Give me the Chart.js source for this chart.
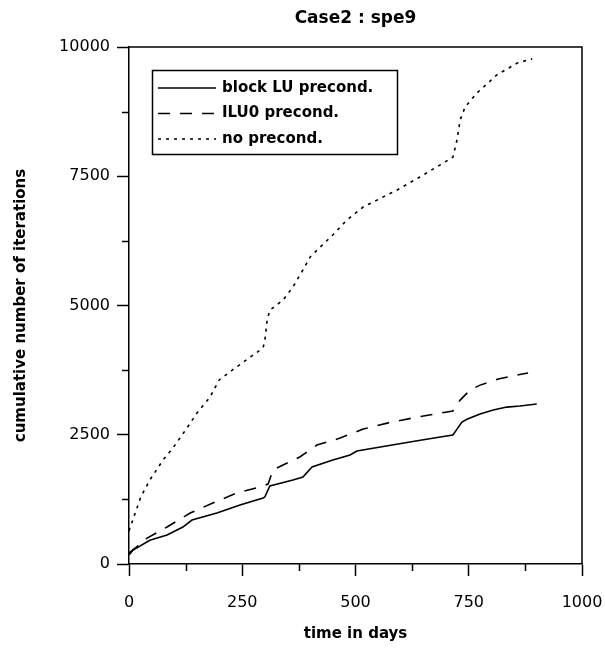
<!DOCTYPE html>
<html>
<head>
<meta charset="utf-8">
<script src="https://cdn.jsdelivr.net/npm/chart.js@4"></script>
<style>
  body { margin: 0; background: #fff; }
  #grafico { display: block; }
</style>
</head>
<body>
<canvas id="grafico" width="605" height="649"></canvas>
<script>
// dados (dias, iterações acumuladas)
const luDias = [0, 9, 46, 84, 119, 139, 194, 245, 296, 300, 311, 362, 384, 404, 450, 488, 503, 620, 687, 715, 735, 746, 775, 804, 834, 863, 900];
const luIter = [175, 270, 460, 560, 715, 850, 985, 1140, 1275, 1300, 1510, 1625, 1680, 1875, 2010, 2110, 2185, 2360, 2455, 2495, 2745, 2800, 2900, 2980, 3035, 3055, 3095];

const iluDias = [0, 40, 84, 135, 185, 238, 289, 307, 318, 377, 415, 466, 517, 570, 627, 687, 715, 731, 753, 775, 815, 868, 881];
const iluIter = [210, 500, 715, 985, 1180, 1375, 1490, 1545, 1820, 2070, 2300, 2435, 2610, 2725, 2825, 2920, 2960, 3170, 3365, 3460, 3580, 3675, 3695];

const semDias = [0, 26, 46, 75, 97, 128, 150, 179, 199, 234, 296, 300, 305, 311, 340, 362, 384, 400, 422, 450, 481, 517, 592, 642, 687, 715, 724, 731, 742, 768, 812, 857, 890];
const semIter = [640, 1295, 1625, 2010, 2245, 2630, 2920, 3230, 3560, 3790, 4180, 4330, 4720, 4910, 5105, 5360, 5690, 5940, 6130, 6365, 6655, 6905, 7235, 7485, 7720, 7870, 8200, 8590, 8840, 9110, 9460, 9690, 9770];

const nomes = ['block LU precond.', 'ILU0 precond.', 'no precond.'];
const ticksX = [0, 250, 500, 750, 1000];
const ticksY = [0, 2500, 5000, 7500, 10000];

const pares = (xs, ys) => xs.map((x, i) => ({ x: x, y: ys[i] }));

const fonte = 'DejaVu Sans';

// moldura, marcas menores, legenda e títulos
const extras = {
    id: 'extras',
    afterDraw(chart) {
        const c = chart.ctx;
        const a = chart.chartArea;
        const sx = chart.scales.x, sy = chart.scales.y;
        c.save();
        c.strokeStyle = '#000';
        c.lineWidth = 1.5;
        c.beginPath();
        c.moveTo(a.left, a.top);
        c.lineTo(a.right, a.top);
        c.lineTo(a.right, a.bottom);
        c.stroke();

        // marcas menores
        for (let i = 0; i < ticksX.length - 1; i++) {
            const px = Math.round(sx.getPixelForValue((ticksX[i] + ticksX[i + 1]) / 2)) + 0.5;
            c.beginPath(); c.moveTo(px, a.bottom); c.lineTo(px, a.bottom + 7); c.stroke();
        }
        for (let i = 0; i < ticksY.length - 1; i++) {
            const py = Math.round(sy.getPixelForValue((ticksY[i] + ticksY[i + 1]) / 2)) + 0.5;
            c.beginPath(); c.moveTo(a.left, py); c.lineTo(a.left - 7, py); c.stroke();
        }

        // legenda
        c.strokeRect(152.5, 70.5, 245, 84);
        c.font = 'bold 15px ' + fonte;
        c.fillStyle = '#000';
        c.textBaseline = 'middle';
        chart.data.datasets.forEach((ds, i) => {
            const y = 88 + i * 25.5;
            c.setLineDash(ds.borderDash || []);
            c.lineWidth = ds.borderWidth;
            c.beginPath(); c.moveTo(158, y); c.lineTo(216, y); c.stroke();
            c.setLineDash([]);
            c.fillText(ds.label, 222, y);
        });

        // títulos
        c.textAlign = 'center';
        c.font = 'bold 17px ' + fonte;
        c.fillText('Case2 : spe9', (a.left + a.right) / 2, 19);
        c.font = 'bold 15px ' + fonte;
        c.fillText('time in days', (a.left + a.right) / 2, 634);
        c.translate(21, (a.top + a.bottom) / 2);
        c.rotate(-Math.PI / 2);
        c.fillText('cumulative number of iterations', 0, 0);
        c.restore();
    }
};

const ctx = document.getElementById('grafico').getContext('2d');
const grafico = new Chart(ctx, {
    type: 'line',
    data: {
        datasets: [
            { label: nomes[0], data: pares(luDias, luIter), borderColor: '#000', borderWidth: 1.6 },
            { label: nomes[1], data: pares(iluDias, iluIter), borderColor: '#000', borderWidth: 1.6, borderDash: [12, 10] },
            { label: nomes[2], data: pares(semDias, semIter), borderColor: '#000', borderWidth: 1.6, borderDash: [3, 5] }
        ]
    },
    options: {
        responsive: false,
        animation: false,
        layout: { padding: { top: 47, right: 23, left: 0, bottom: 0 } },
        elements: { point: { radius: 0 }, line: { tension: 0, fill: false } },
        plugins: { legend: { display: false }, tooltip: { enabled: false } },
        scales: {
            x: {
                type: 'linear', min: 0, max: 1000,
                afterFit: s => { s.height = 85; s.paddingLeft = 0; s.paddingRight = 0; },
                afterBuildTicks: s => { s.ticks = ticksX.map(v => ({ value: v })); },
                ticks: { color: '#000', font: { family: fonte, size: 16 }, padding: 17, maxRotation: 0, callback: v => String(v) },
                grid: { drawOnChartArea: false, tickLength: 12, color: '#000', tickWidth: 1.5 },
                border: { color: '#000', width: 1.5 }
            },
            y: {
                type: 'linear', min: 0, max: 10000,
                afterFit: s => { s.width = 129; s.paddingTop = 0; s.paddingBottom = 0; },
                afterBuildTicks: s => { s.ticks = ticksY.map(v => ({ value: v })); },
                ticks: { color: '#000', font: { family: fonte, size: 16 }, padding: 7, callback: v => String(v) },
                grid: { drawOnChartArea: false, tickLength: 12, color: '#000', tickWidth: 1.5 },
                border: { color: '#000', width: 1.5 }
            }
        }
    },
    plugins: [extras]
});
</script>
</body>
</html>
